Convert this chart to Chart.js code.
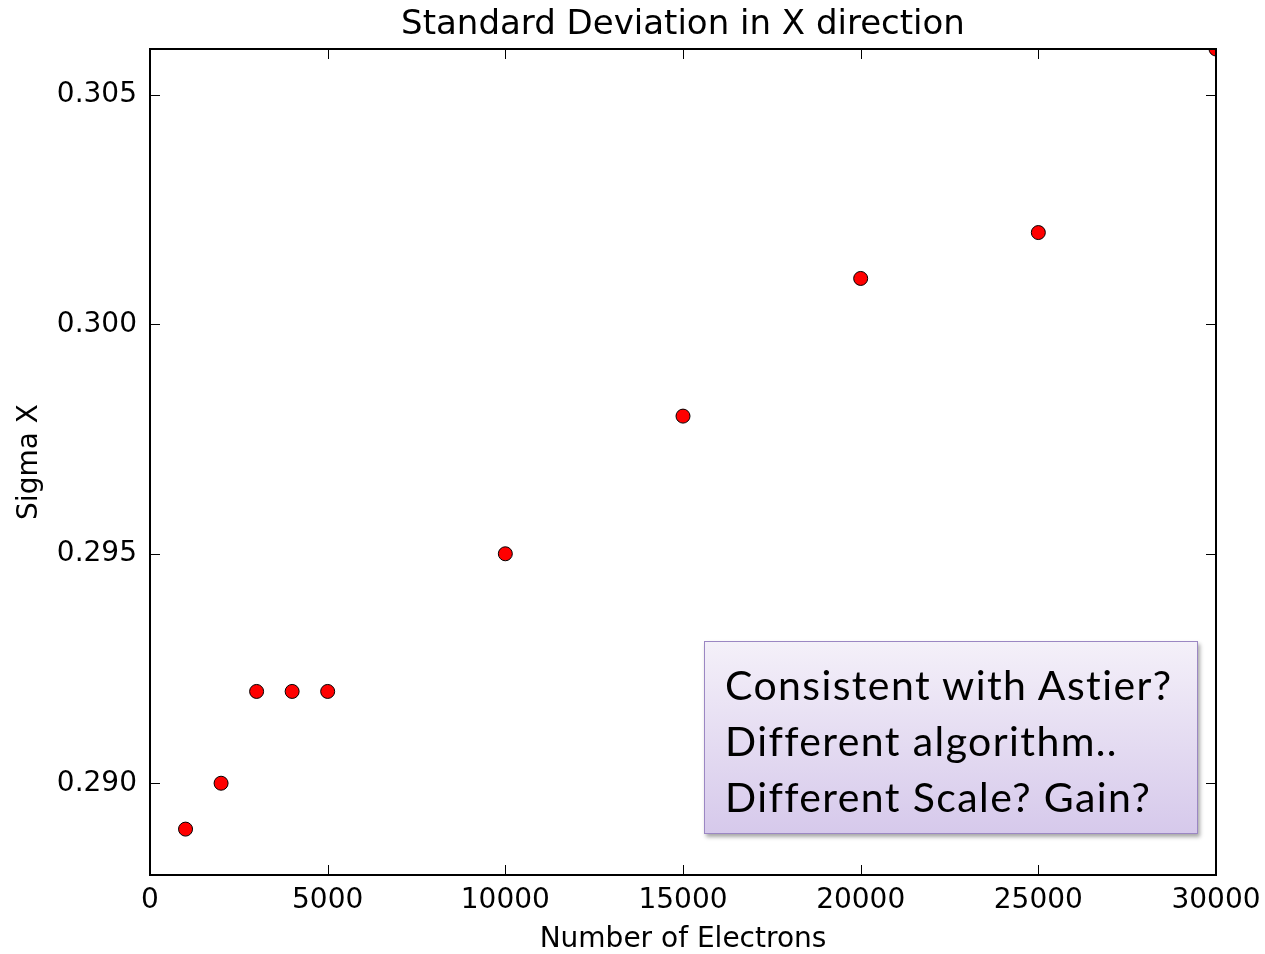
<!DOCTYPE html>
<html>
<head>
<meta charset="utf-8">
<script src="https://cdn.jsdelivr.net/npm/chart.js@4"></script>
<style>
  html, body { margin: 0; padding: 0; background: #fff; }
  #wrap { position: relative; width: 1265px; height: 954px; }
  #note {
    position: absolute; left: 704px; top: 641px; width: 494px; height: 193px;
    box-sizing: border-box; padding: 15px 0 0 20px;
    background: linear-gradient(#f4f0f9, #d6c9eb);
    border: 1.5px solid #9b87c3;
    box-shadow: 2px 3px 4px rgba(0,0,0,0.35);
    font-family: Lato, sans-serif; font-size: 41px; line-height: 56px;
    letter-spacing: 1.4px; color: #000;
    white-space: nowrap;
  }
</style>
</head>
<body>
<div id="wrap">
  <canvas id="c" width="1265" height="954"></canvas>
  <div id="note">Consistent with Astier?<br>Different algorithm..<br>Different Scale? Gain?</div>
</div>
<script>
const electrons = [1000, 2000, 3000, 4000, 5000, 10000, 15000, 20000, 25000, 30000];
const sigmaX = [0.289, 0.290, 0.292, 0.292, 0.292, 0.295, 0.298, 0.301, 0.302, 0.306];
const xTicks = [0, 5000, 10000, 15000, 20000, 25000, 30000];
const yTicks = [0.290, 0.295, 0.300, 0.305];

// matplotlib style frame with inward ticks on all four sides
const frame = {
  id: 'frame',
  afterDatasetsDraw(chart) {
    const {ctx, chartArea: a, scales: {x, y}} = chart;
    ctx.save();
    ctx.strokeStyle = '#000';
    ctx.lineWidth = 1;
    ctx.beginPath();
    x.ticks.forEach(t => {
      const px = Math.round(x.getPixelForValue(t.value)) + 0.5;
      ctx.moveTo(px, a.bottom); ctx.lineTo(px, a.bottom - 10);
      ctx.moveTo(px, a.top); ctx.lineTo(px, a.top + 10);
    });
    y.ticks.forEach(t => {
      const py = Math.round(y.getPixelForValue(t.value)) + 0.5;
      ctx.moveTo(a.left, py); ctx.lineTo(a.left + 10, py);
      ctx.moveTo(a.right, py); ctx.lineTo(a.right - 10, py);
    });
    ctx.stroke();
    ctx.lineWidth = 2;
    ctx.strokeRect(a.left, a.top, a.width, a.height);
    ctx.restore();
  }
};

new Chart(document.getElementById('c'), {
  type: 'scatter',
  data: {
    datasets: [{
      data: electrons.map((v, i) => ({x: v, y: sigmaX[i]})),
      backgroundColor: '#ff0000',
      borderColor: '#000',
      borderWidth: 1,
      pointRadius: 7,
      pointHoverRadius: 7,
      clip: 0
    }]
  },
  options: {
    responsive: false,
    animation: false,
    layout: {padding: {top: 0, right: 49, bottom: 0, left: 0}},
    plugins: {
      legend: {display: false},
      tooltip: {enabled: false},
      title: {
        display: true,
        text: 'Standard Deviation in X direction',
        color: '#000',
        fullSize: false,
        font: {family: 'DejaVu Sans', size: 34, weight: 'normal', lineHeight: 1},
        padding: {top: 8, bottom: 7}
      }
    },
    scales: {
      x: {
        type: 'linear',
        min: 0, max: 30000,
        afterBuildTicks: s => { s.ticks = xTicks.map(v => ({value: v})); },
        afterFit: s => { s.height = 79; s.paddingLeft = 0; s.paddingRight = 0; },
        grid: {display: false, drawTicks: false},
        border: {display: false},
        ticks: {
          color: '#000', padding: 9, maxRotation: 0,
          font: {family: 'DejaVu Sans', size: 28},
          callback: v => String(v)
        },
        title: {
          display: true, text: 'Number of Electrons', color: '#000',
          font: {family: 'DejaVu Sans', size: 28, lineHeight: 1},
          padding: {top: 0, bottom: 0}
        }
      },
      y: {
        min: 0.288, max: 0.306,
        afterBuildTicks: s => { s.ticks = yTicks.map(v => ({value: v})); },
        afterFit: s => { s.width = 150; },
        grid: {display: false, drawTicks: false},
        border: {display: false},
        ticks: {
          color: '#000', padding: 13,
          font: {family: 'DejaVu Sans', size: 28},
          callback: v => v.toFixed(3)
        },
        title: {
          display: true, text: 'Sigma X', color: '#000',
          font: {family: 'DejaVu Sans', size: 28, lineHeight: 1},
          padding: {top: 16, bottom: 0}
        }
      }
    }
  },
  plugins: [frame]
});
</script>
</body>
</html>
